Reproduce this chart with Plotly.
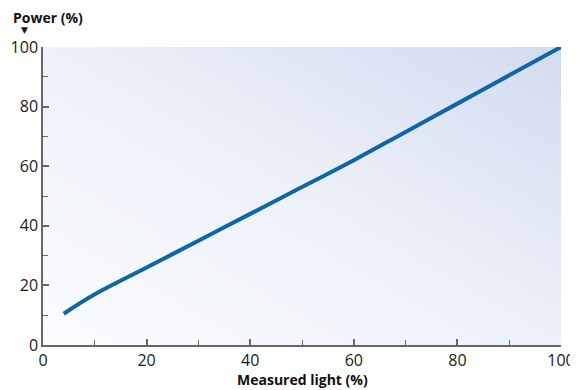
import plotly.graph_objects as go

measured_light = [4, 10, 20, 30, 40, 50, 60, 70, 80, 90, 100]
power = [10.5, 17, 26, 35, 44, 53, 62, 71.5, 81, 90.5, 100]
x_ticks = [0, 20, 40, 60, 80, 100]
y_ticks = [0, 20, 40, 60, 80, 100]

fig = go.Figure()

# diagonal gradient background
fig.add_trace(go.Heatmap(
    x=[0, 100], y=[0, 100], z=[[0, 1], [1, 2]],
    zsmooth="best", showscale=False, hoverinfo="skip",
    colorscale=[[0, "#fbfcfe"], [0.5, "#edf1f9"], [1, "#d2dbef"]],
))

fig.add_trace(go.Scatter(
    x=measured_light, y=power, mode="lines",
    line=dict(color="#0e66a8", width=4, shape="spline", smoothing=1.0),
    showlegend=False,
))

axis_common = dict(
    showgrid=False, zeroline=False, showline=True, automargin=False,
    linecolor="#666666", linewidth=1.5,
    ticks="inside", ticklen=6, tickwidth=1.5, tickcolor="#666666",
    tickfont=dict(family="Open Sans", size=16, color="#1a1a1a"),
    minor=dict(ticks="inside", ticklen=5, tickwidth=1.2, tickcolor="#666666", dtick=10),
)

fig.update_xaxes(range=[0, 100], tickvals=x_ticks, **axis_common)
fig.update_yaxes(range=[0, 100], tickvals=y_ticks, **axis_common)

fig.add_annotation(text="<b>Power (%)</b>", xref="paper", yref="paper",
                   x=-0.062, y=1.10, xanchor="left", yanchor="middle",
                   showarrow=False, font=dict(family="Open Sans", size=14, color="#111"))
fig.add_annotation(text="▼", xref="paper", yref="paper",
                   x=-0.035, y=1.056, xanchor="center", yanchor="middle",
                   showarrow=False, font=dict(family="DejaVu Sans", size=9, color="#111"))
fig.add_annotation(text="<b>Measured light (%)</b>", xref="paper", yref="paper",
                   x=0.5, y=-0.117, xanchor="center", yanchor="middle",
                   showarrow=False, font=dict(family="Open Sans", size=14, color="#111"))

# the page body adds an 8px offset; size the figure so the plot lands where the reference has it
fig.update_layout(
    width=570, height=382,
    margin=dict(l=35, r=17, t=39, b=45, autoexpand=False),
    paper_bgcolor="white", plot_bgcolor="white",
    showlegend=False,
)

fig.write_html("out.html")
